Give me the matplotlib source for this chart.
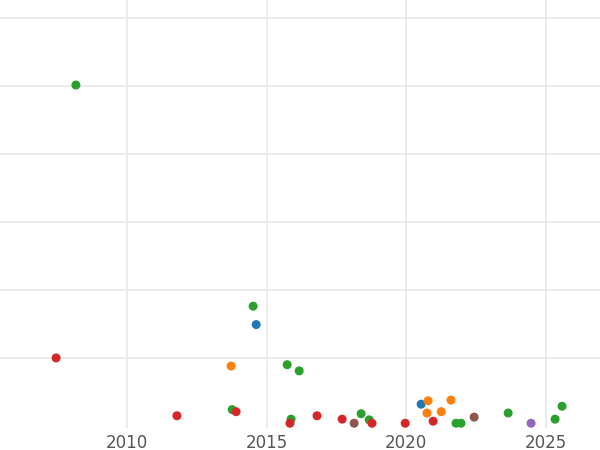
import matplotlib
matplotlib.use("Agg")
import matplotlib.pyplot as plt

years = [2008.17, 2007.46, 2011.79, 2013.73, 2013.77, 2013.91, 2014.52, 2014.63, 2015.74, 2015.88,
         2015.84, 2016.17, 2016.81, 2017.71, 2018.39, 2018.14, 2018.68, 2018.78, 2019.97, 2020.54,
         2020.79, 2020.75, 2020.97, 2021.26, 2021.61, 2021.79, 2021.97, 2022.44, 2023.66, 2024.48,
         2025.34, 2025.59]
values = [50.1, 10.0, 1.5, 8.8, 2.4, 2.1, 17.6, 14.9, 9.0, 1.0,
          0.4, 8.1, 1.5, 1.0, 1.8, 0.4, 0.9, 0.4, 0.4, 3.2,
          3.7, 1.9, 0.7, 2.1, 3.8, 0.4, 0.4, 1.3, 1.9, 0.4,
          1.0, 2.9]
groups = ["g", "r", "r", "o", "g", "r", "g", "b", "g", "g",
          "r", "g", "r", "r", "g", "n", "g", "r", "r", "b",
          "o", "o", "r", "o", "o", "g", "g", "n", "g", "p",
          "g", "g"]
palette = {"b": "#1f77b4", "o": "#ff7f0e", "g": "#2ca02c", "r": "#d62728",
           "p": "#9467bd", "n": "#8c564b"}

fig = plt.figure(figsize=(6, 4.5), dpi=100)
ax = fig.add_axes([0, 22/450, 1, 428/450])
ax.scatter(years, values, c=[palette[g] for g in groups], s=42, zorder=3, linewidths=0)
ax.set_xlim(2005.45, 2026.95)
ax.set_ylim(-0.3, 62.6)
ax.set_xticks([2010, 2015, 2020, 2025])
ax.set_yticks([10, 20, 30, 40, 50, 60])
ax.set_yticklabels([])
ax.grid(True, color="#e8e8e8", linewidth=1.2, zorder=0)
for s in ax.spines.values():
    s.set_visible(False)
ax.tick_params(axis="both", length=0)
ax.tick_params(axis="x", labelsize=12, labelcolor="#555555", pad=4)
fig.savefig("out.png", dpi=100)
